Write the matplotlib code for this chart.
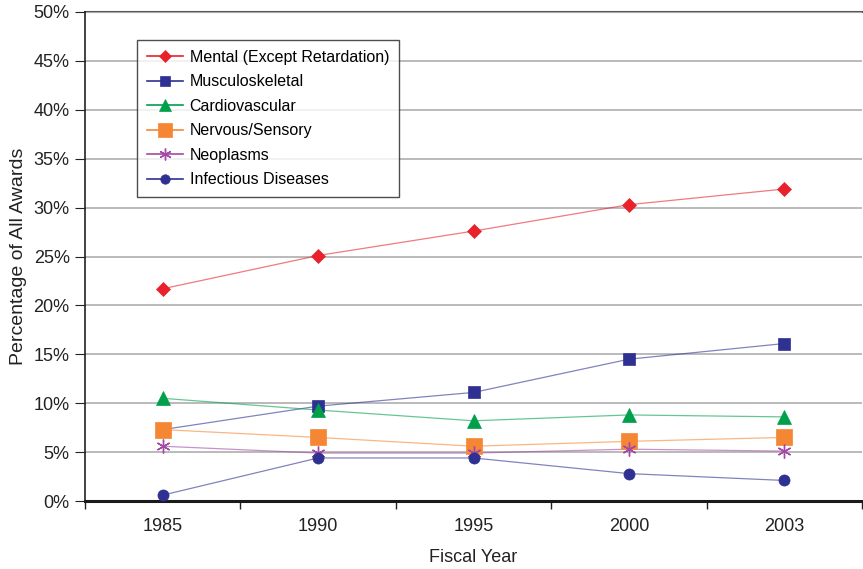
import matplotlib
matplotlib.use("Agg")
import matplotlib.pyplot as plt
from matplotlib.ticker import PercentFormatter, FixedLocator, NullFormatter

plt.rcParams['font.family'] = ['Liberation Sans', 'DejaVu Sans']

years = ["1985", "1990", "1995", "2000", "2003"]
mental = [21.7, 25.1, 27.6, 30.3, 31.9]
musculo = [7.3, 9.7, 11.1, 14.5, 16.1]
cardio = [10.5, 9.3, 8.2, 8.8, 8.6]
nervous = [7.3, 6.5, 5.6, 6.1, 6.5]
neoplasms = [5.6, 4.9, 4.9, 5.3, 5.1]
infectious = [0.6, 4.4, 4.4, 2.8, 2.1]

asterisk = (6, 2, 0)
series = [
    ("Mental (Except Retardation)", mental, "#E8212B", "D", 7),
    ("Musculoskeletal", musculo, "#2E3192", "s", 8),
    ("Cardiovascular", cardio, "#00A04B", "^", 10),
    ("Nervous/Sensory", nervous, "#F58634", "s", 12),
    ("Neoplasms", neoplasms, "#A349A4", asterisk, 10),
    ("Infectious Diseases", infectious, "#2E3192", "o", 8),
]

fig = plt.figure(figsize=(8.63, 5.69), dpi=100)
ax = fig.add_axes([85 / 863, 1 - 501 / 569, 777 / 863, 489 / 569])

x = list(range(len(years)))
for name, vals, color, marker, ms in series:
    thin = marker == asterisk
    ax.plot(x, vals, color=color, linewidth=0.9, alpha=0.6, zorder=2)
    ax.plot(x, vals, linestyle="none", marker=marker, markersize=ms, color=color,
            markeredgewidth=1.0 if thin else 0.5, zorder=3)
    # legend proxy
    ax.plot([], [], color=color, linewidth=1.2, marker=marker, markersize=ms * 0.85,
            markeredgewidth=1.0 if thin else 0.5, label=name)

ax.set_xlim(-0.5, len(years) - 0.5)
ax.set_ylim(0, 50)
ax.set_yticks(range(0, 51, 5))
ax.yaxis.set_major_formatter(PercentFormatter(decimals=0))
ax.grid(axis="y", color="#B4B4B4", linewidth=1.3, zorder=0)

ax.xaxis.set_major_locator(FixedLocator([i - 0.5 for i in range(len(years) + 1)]))
ax.xaxis.set_major_formatter(NullFormatter())
ax.xaxis.set_minor_locator(FixedLocator(x))
ax.set_xticklabels(years, minor=True)
ax.tick_params(axis="x", which="major", length=6, direction="out", width=1)
ax.tick_params(axis="x", which="minor", length=0, pad=12, labelsize=13, colors="#222222")
ax.tick_params(axis="y", length=7, direction="out", labelsize=13, colors="#222222", pad=4)
ax.tick_params(axis="both", color="#222222")

for s in ["top", "right"]:
    ax.spines[s].set_visible(False)
ax.spines["left"].set_color("#222222")
ax.spines["left"].set_linewidth(1.2)
ax.spines["bottom"].set_color("#1a1a1a")
ax.spines["bottom"].set_linewidth(2.2)
ax.axhline(50, color="#555555", linewidth=1.5, zorder=1, clip_on=False)

ax.set_xlabel("Fiscal Year", fontsize=13, color="#222222", labelpad=10)
ax.set_ylabel("Percentage of All Awards", fontsize=14, color="#222222", labelpad=5)

leg = ax.legend(loc="upper left", bbox_to_anchor=(52 / 777, 1 - 28 / 489), fontsize=11.5,
                frameon=True, fancybox=False, edgecolor="#222222", handlelength=2.3,
                labelspacing=0.6, borderpad=0.6, handletextpad=0.4, borderaxespad=0)
leg.get_frame().set_linewidth(1.0)

fig.savefig("out.png", dpi=100)
